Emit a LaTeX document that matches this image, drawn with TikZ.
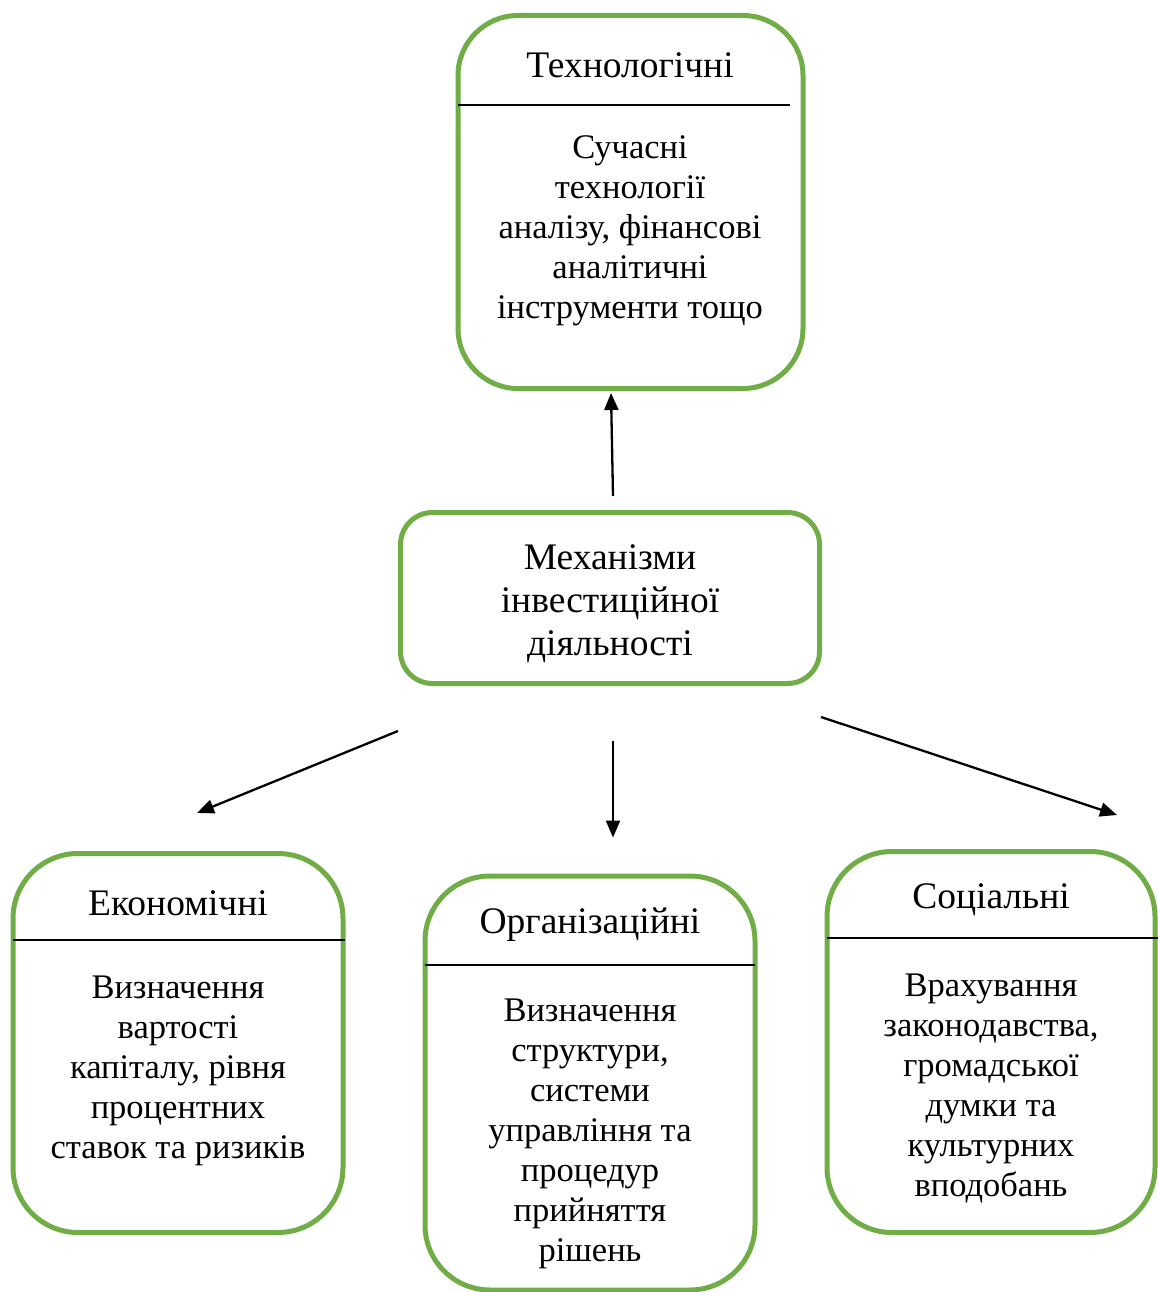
\documentclass[tikz,border=0pt]{standalone}
\usepackage{fontspec}
\setmainfont{Liberation Serif}
\usetikzlibrary{arrows.meta,calc}
\definecolor{boxgreen}{HTML}{70AD47}
\tikzset{
  gbox/.style={draw=boxgreen, line width=5pt, rectangle, inner sep=0pt, outer sep=0pt},
  txt/.style={align=center, inner sep=0pt, font=\fontsize{34.5}{40}\selectfont},
  ttl/.style={align=center, inner sep=0pt, font=\fontsize{37.5}{43}\selectfont},
  sepline/.style={draw=black, line width=2.3pt},
  arr/.style={draw=black, line width=2.3pt, -{Triangle[length=17pt,width=14pt]}}
}
\begin{document}
\begin{tikzpicture}[x=1pt,y=-1pt]
\useasboundingbox (0,0) rectangle (1158,1292);
% boxes
\node[gbox, rounded corners=60pt, minimum width=345pt, minimum height=373pt] (tech) at (630.5,202) {};
\node[gbox, rounded corners=32pt, minimum width=419pt, minimum height=171pt] (mech) at (610,598) {};
\node[gbox, rounded corners=65pt, minimum width=330pt, minimum height=379pt] (econ) at (178,1043) {};
\node[gbox, rounded corners=65pt, minimum width=330pt, minimum height=414pt] (org) at (590,1083) {};
\node[gbox, rounded corners=65pt, minimum width=328pt, minimum height=381pt] (soc) at (991,1042) {};
% separators
\draw[sepline] (tech.west |- 0,105) -- (790,105);
\draw[sepline] (econ.west |- 0,940) -- (345,940);
\draw[sepline] (org.west |- 0,965) -- (755,965);
\draw[sepline] (soc.west |- 0,938) -- (1158,938);
% titles
\node[ttl] (techT) at (630,65) {Технологічні};
\node[ttl] (econT) at (178,903) {Економічні};
\node[ttl] (orgT) at (590,925) {Організаційні};
\node[ttl] (socT) at (991,900) {Соціальні};
% bodies
\node[txt] (techB) at (630,231) {Сучасні\\технології\\аналізу, фінансові\\аналітичні\\інструменти тощо};
\node[ttl] (mechB) at (610,604) {Механізми\\інвестиційної\\діяльності};
\node[txt] (econB) at (178,1071) {Визначення\\вартості\\капіталу, рівня\\процентних\\ставок та ризиків};
\node[txt] (orgB) at (590,1134) {Визначення\\структури,\\системи\\управління та\\процедур\\прийняття\\рішень};
\node[txt] (socB) at (991,1089) {Врахування\\законодавства,\\громадської\\думки та\\культурних\\вподобань};
% arrows
\draw[arr] ($(mech.north)+(3,-16.5)$) -- ($(tech.south)+(-19.5,4.5)$);
\draw[arr] ($(mech.south)+(3,57.5)$) -- ($(org.north)+(23,-38.5)$);
\draw[arr] ($(mech.south west)+(-2.5,47.5)$) -- ($(econ.north)+(19,-40.5)$);
\draw[arr] ($(mech.south east)+(1.5,33.5)$) -- ($(soc.north)+(126,-36.5)$);
\end{tikzpicture}
\end{document}
